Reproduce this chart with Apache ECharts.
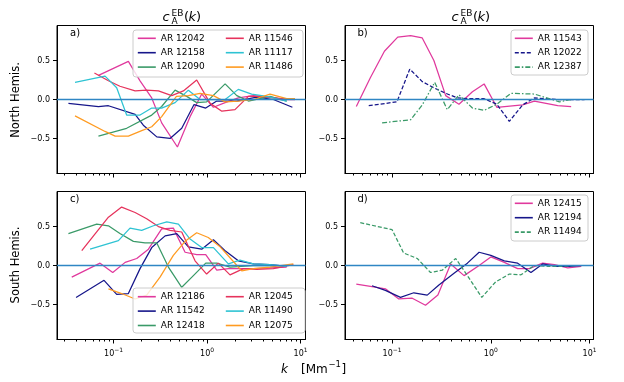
<!DOCTYPE html>
<html>
<head>
<meta charset="utf-8">
<script src="https://cdn.jsdelivr.net/npm/echarts@6/dist/echarts.min.js"></script>
<style>
  * { margin: 0; padding: 0; }
  #chart { width: 624px; height: 382px; background: #fff; }
</style>
</head>
<body>
<div id="chart"></div>
<script>
// [k (Mm^-1), c_A^EB]
// panel a) north
var ar12042 = [[0.069,0.31],[0.144,0.49],[0.192,0.24],[0.256,0.02],[0.327,-0.30],[0.482,-0.61],[0.658,-0.22],[0.877,0.07],[1.17,-0.10],[1.56,-0.04],[2.16,0.02],[3.13,0.05],[4.72,0.03],[7.11,0.0],[8.73,0.0]];
var ar12158 = [[0.0329,-0.05],[0.0689,-0.09],[0.0881,-0.08],[0.170,-0.19],[0.208,-0.33],[0.290,-0.48],[0.402,-0.50],[0.536,-0.37],[0.726,-0.065],[0.968,-0.11],[1.27,-0.02],[2.08,-0.02],[3.40,0.03],[5.12,0.0],[8.18,-0.10]];
var ar12090 = [[0.0689,-0.47],[0.138,-0.37],[0.256,-0.20],[0.327,-0.09],[0.455,0.12],[0.606,0.04],[0.775,-0.04],[0.99,-0.03],[1.56,0.20],[2.08,0.05],[2.77,-0.02],[4.72,0.04],[7.11,-0.02]];
var ar11546 = [[0.0624,0.34],[0.0881,0.24],[0.117,0.17],[0.170,0.11],[0.226,0.12],[0.302,0.11],[0.419,0.05],[0.558,0.11],[0.775,0.25],[1.08,-0.05],[1.44,-0.15],[1.99,-0.13],[2.77,0.04],[3.84,0.04],[5.12,0.02],[8.18,0.0]];
var ar11117 = [[0.0387,0.22],[0.0811,0.30],[0.108,0.15],[0.138,-0.20],[0.192,-0.20],[0.256,-0.11],[0.327,-0.11],[0.455,-0.04],[0.631,0.12],[0.842,0.0],[1.17,0.0],[1.56,0.0],[2.16,0.13],[3.0,0.07],[4.35,0.04],[7.11,-0.02]];
var ar11486 = [[0.0387,-0.21],[0.0811,-0.41],[0.104,-0.47],[0.144,-0.47],[0.2,-0.40],[0.256,-0.35],[0.327,-0.22],[0.47,0.04],[0.631,0.05],[0.842,0.08],[1.17,0.05],[1.56,-0.03],[2.16,-0.02],[3.13,0.0],[4.72,0.07],[7.11,0.01],[8.73,0.01]];
// panel b) north
var ar11543 = [[0.0434,-0.09],[0.0602,0.28],[0.0836,0.62],[0.114,0.80],[0.154,0.82],[0.202,0.79],[0.265,0.50],[0.349,0.05],[0.476,-0.06],[0.651,0.10],[0.855,0.20],[1.15,-0.10],[2.10,-0.07],[2.76,-0.02],[4.76,-0.08],[6.51,-0.09]];
var ar12022 = [[0.058,-0.08],[0.112,-0.03],[0.151,0.39],[0.202,0.23],[0.265,0.15],[0.349,0.08],[0.458,0.02],[0.626,0.01],[0.855,0.01],[1.15,-0.06],[1.54,-0.28],[2.10,-0.07],[2.76,0.02],[3.62,0.01],[4.76,0.0],[8.89,0.0]];
var ar12387 = [[0.0792,-0.30],[0.154,-0.26],[0.202,-0.07],[0.27,0.22],[0.362,-0.13],[0.476,0.06],[0.651,-0.11],[0.855,-0.14],[1.15,-0.06],[1.60,0.08],[2.76,0.07],[4.95,-0.03],[6.51,0.0]];
// panel c) south
var ar12186 = [[0.0357,-0.15],[0.0717,0.03],[0.098,-0.09],[0.133,0.04],[0.177,0.09],[0.236,0.21],[0.327,0.47],[0.436,0.48],[0.582,0.17],[0.775,0.14],[0.968,0.14],[1.27,-0.06],[1.69,-0.04],[3.13,-0.04],[7.11,-0.02]];
var ar11542 = [[0.0397,-0.41],[0.0791,-0.19],[0.108,-0.37],[0.144,-0.36],[0.192,-0.04],[0.256,0.23],[0.356,0.38],[0.474,0.41],[0.631,0.24],[0.877,0.21],[1.17,0.33],[1.56,0.19],[2.16,0.06],[3.13,0.02],[4.72,0.01],[7.11,-0.01]];
var ar12418 = [[0.0329,0.41],[0.066,0.53],[0.0881,0.51],[0.117,0.41],[0.163,0.31],[0.217,0.29],[0.29,0.29],[0.386,-0.02],[0.536,-0.28],[0.714,-0.13],[0.968,0.03],[1.27,0.03],[1.76,-0.02],[3.40,0.0],[7.11,0.0]];
var ar12045 = [[0.0457,0.19],[0.0881,0.62],[0.122,0.75],[0.170,0.68],[0.226,0.60],[0.302,0.50],[0.402,0.45],[0.536,0.43],[0.744,0.06],[0.99,-0.11],[1.32,0.03],[1.76,-0.12],[2.45,-0.04],[3.40,-0.05],[5.12,-0.04],[8.38,0.01]];
var ar11490 = [[0.0561,0.21],[0.1127,0.32],[0.150,0.48],[0.2,0.45],[0.267,0.51],[0.371,0.56],[0.494,0.53],[0.658,0.34],[0.877,0.23],[1.17,0.23],[1.69,0.02],[2.25,0.07],[3.13,0.02],[4.72,0.01],[7.11,-0.01]];
var ar12075 = [[0.0881,-0.30],[0.122,-0.36],[0.170,-0.43],[0.226,-0.38],[0.314,-0.15],[0.436,0.13],[0.582,0.31],[0.775,0.42],[1.03,0.36],[1.38,0.24],[1.76,0.10],[2.35,-0.07],[3.13,-0.04],[4.72,-0.02],[8.38,0.02]];
// panel d) south
var ar12415 = [[0.0434,-0.24],[0.0626,-0.27],[0.0855,-0.30],[0.117,-0.43],[0.160,-0.42],[0.218,-0.51],[0.291,-0.38],[0.392,0.02],[0.536,-0.13],[0.761,0.0],[1.0,0.11],[1.37,0.04],[1.87,-0.04],[2.45,-0.04],[3.35,0.03],[4.41,0.01],[6.02,-0.03],[8.23,-0.01]];
var ar12194 = [[0.0626,-0.26],[0.0855,-0.32],[0.1216,-0.41],[0.166,-0.35],[0.227,-0.38],[0.298,-0.25],[0.424,-0.10],[0.579,0.03],[0.761,0.17],[1.0,0.13],[1.37,0.06],[1.87,0.03],[2.55,-0.09],[3.35,0.02],[4.58,-0.01],[6.26,-0.01],[8.55,0.0]];
var ar11494 = [[0.0476,0.55],[0.1,0.46],[0.131,0.16],[0.18,0.09],[0.245,-0.09],[0.322,-0.06],[0.441,0.09],[0.579,-0.13],[0.81,-0.41],[1.12,-0.21],[1.54,-0.11],[2.02,-0.12],[2.76,0.0],[3.77,-0.01],[5.15,-0.01],[7.04,0.0]];

var majorK = [0.1, 1, 10];
var minorK = [0.02,0.03,0.04,0.05,0.06,0.07,0.08,0.09,0.2,0.3,0.4,0.5,0.6,0.7,0.8,0.9,2,3,4,5,6,7,8,9];
var yTicks = [-0.5, 0, 0.5];

var PINK = '#e0399d', NAVY = '#16168a', GREEN = '#3a9a68', RED = '#e6335c', CYAN = '#2ec3d3', ORANGE = '#ff9b21';
var ZERO = '#2f86c4';
var FONT = 'DejaVu Sans';

var panels = [
  { left: 57, top: 25.5, xmin: -1.605, xmax: 1.053, labels: false, series: [
    { name: 'AR 12042', data: ar12042, color: PINK },
    { name: 'AR 12158', data: ar12158, color: NAVY },
    { name: 'AR 12090', data: ar12090, color: GREEN },
    { name: 'AR 11546', data: ar11546, color: RED },
    { name: 'AR 11117', data: ar11117, color: CYAN },
    { name: 'AR 11486', data: ar11486, color: ORANGE } ] },
  { left: 345, top: 25.5, xmin: -1.477, xmax: 1.04, labels: false, series: [
    { name: 'AR 11543', data: ar11543, color: PINK },
    { name: 'AR 12022', data: ar12022, color: NAVY, dash: [4, 2] },
    { name: 'AR 12387', data: ar12387, color: GREEN, dash: [5, 2, 1.5, 2] } ] },
  { left: 57, top: 191.5, xmin: -1.605, xmax: 1.053, labels: true, series: [
    { name: 'AR 12186', data: ar12186, color: PINK },
    { name: 'AR 11542', data: ar11542, color: NAVY },
    { name: 'AR 12418', data: ar12418, color: GREEN },
    { name: 'AR 12045', data: ar12045, color: RED },
    { name: 'AR 11490', data: ar11490, color: CYAN },
    { name: 'AR 12075', data: ar12075, color: ORANGE } ] },
  { left: 345, top: 191.5, xmin: -1.477, xmax: 1.04, labels: true, series: [
    { name: 'AR 12415', data: ar12415, color: PINK },
    { name: 'AR 12194', data: ar12194, color: NAVY },
    { name: 'AR 11494', data: ar11494, color: GREEN, dash: [4, 2] } ] }
];

function lg(v) { return Math.log10(v); }
function minus(n) { return n < 0 ? '\u2212' + (-n) : '' + n; }

var grids = [], xAxes = [], yAxes = [], series = [];
panels.forEach(function (p, i) {
  grids.push({ left: p.left, top: p.top, width: 248.5, height: 148, show: true,
    borderColor: '#000', borderWidth: 1, backgroundColor: 'transparent' });
  var minors = minorK.map(lg).filter(function (v) { return v > p.xmin && v < p.xmax; });
  xAxes.push({
    type: 'value', gridIndex: i, min: p.xmin, max: p.xmax, position: 'bottom',
    splitLine: { show: false },
    axisLine: { show: true, onZero: false, lineStyle: { color: '#000', width: 1 } },
    axisTick: { show: true, customValues: majorK.map(lg), length: 4, lineStyle: { color: '#000' } },
    axisLabel: {
      show: p.labels, customValues: majorK.map(lg), margin: 8, color: '#000',
      fontFamily: FONT, fontSize: 8,
      formatter: function (v) { return '10{s|' + minus(Math.round(v)) + '}'; },
      rich: { s: { fontSize: 6, fontFamily: FONT, color: '#000', padding: [0, 0, 6, 0] } }
    }
  });
  xAxes.push({
    type: 'value', gridIndex: i, min: p.xmin, max: p.xmax, position: 'bottom',
    splitLine: { show: false }, axisLine: { show: false, onZero: false },
    axisTick: { show: true, customValues: minors, length: 2, lineStyle: { color: '#000' } },
    axisLabel: { show: false }
  });
  yAxes.push({
    type: 'value', gridIndex: i, min: -0.95, max: 0.95, position: 'left',
    splitLine: { show: false },
    axisLine: { show: true, onZero: false, lineStyle: { color: '#000', width: 1 } },
    axisTick: { show: true, customValues: yTicks, length: 4, lineStyle: { color: '#000' } },
    axisLabel: {
      customValues: yTicks, margin: 7, color: '#000', fontFamily: FONT, fontSize: 8,
      formatter: function (v) { return v === 0 ? '0.0' : (v < 0 ? '\u2212' : '') + Math.abs(v).toFixed(1); }
    }
  });
  // horizontal reference line at c = 0 across the panel
  series.push({
    type: 'line', name: 'zero' + i, xAxisIndex: 2 * i, yAxisIndex: i,
    data: [[p.xmin, 0], [p.xmax, 0]], symbol: 'none', silent: true, z: 4,
    lineStyle: { color: ZERO, width: 1.3 }, itemStyle: { color: ZERO }
  });
  p.series.forEach(function (s) {
    series.push({
      type: 'line', name: s.name, xAxisIndex: 2 * i, yAxisIndex: i,
      data: s.data.map(function (d) { return [lg(d[0]), d[1]]; }),
      symbol: 'none', z: 3,
      lineStyle: { color: s.color, width: 1.25, type: s.dash || 'solid' },
      itemStyle: { color: s.color }
    });
  });
});

var legStyle = { orient: 'vertical', itemGap: 4.4, itemWidth: 18, itemHeight: 8, padding: 0, z: 8,
  lineStyle: { width: 1.6 },
  itemStyle: { opacity: 0 },
  textStyle: { fontSize: 9, lineHeight: 10, fontFamily: FONT, color: '#000' } };
function leg(names, left, top) {
  return Object.assign({ data: names, left: left, top: top }, legStyle);
}
var legends = [
  leg(['AR 12042', 'AR 12158', 'AR 12090'], 137, 33.3),
  leg(['AR 11546', 'AR 11117', 'AR 11486'], 225, 33.3),
  leg(['AR 11543', 'AR 12022', 'AR 12387'], 514, 33.3),
  leg(['AR 12186', 'AR 11542', 'AR 12418'], 137, 291.7),
  leg(['AR 12045', 'AR 11490', 'AR 12075'], 225, 291.7),
  leg(['AR 12415', 'AR 12194', 'AR 11494'], 514, 198.3)
];

function frame(x, y, w, h) {
  return { type: 'rect', z: 5, shape: { x: x, y: y, width: w, height: h, r: 3 },
    style: { fill: 'rgba(255,255,255,0.8)', stroke: '#cccccc', lineWidth: 1 } };
}
function txt(t, x, y, size, opt) {
  return { type: 'text', z: 10, x: x, y: y, rotation: (opt && opt.rot) || 0,
    style: { text: t, fontSize: size, fontFamily: FONT, fill: '#000',
      fontStyle: (opt && opt.italic) ? 'italic' : 'normal',
      align: (opt && opt.align) || 'left', verticalAlign: 'middle' } };
}
function title(dx) {
  return [
    txt('c', 162.5 + dx, 18, 13, { italic: true }),
    txt('EB', 171.5 + dx, 14, 9),
    txt('A', 171.5 + dx, 21.5, 9),
    txt('(', 184 + dx, 18, 13),
    txt('k', 188.5 + dx, 18, 13, { italic: true }),
    txt(')', 196 + dx, 18, 13)
  ];
}

var graphics = [
  frame(133, 30, 170, 47), frame(511, 30, 77, 45),
  frame(133, 288, 172, 45), frame(511, 195, 77, 46),
  txt('a)', 70, 33.5, 10), txt('b)', 357.5, 33.5, 10),
  txt('c)', 70, 199, 10), txt('d)', 357.5, 199, 10),
  txt('North Hemis.', 16, 100, 11.5, { rot: Math.PI / 2, align: 'center' }),
  txt('South Hemis.', 16, 265, 11.5, { rot: Math.PI / 2, align: 'center' }),
  txt('k', 281, 370, 12, { italic: true }),
  txt('[Mm', 301, 370, 12),
  txt('\u22121', 328.5, 365, 8.5),
  txt(']', 341.5, 370, 12)
].concat(title(0), title(289));

var chart = echarts.init(document.getElementById('chart'), null, { renderer: 'canvas' });
chart.setOption({
  animation: false,
  backgroundColor: '#fff',
  grid: grids,
  xAxis: xAxes,
  yAxis: yAxes,
  legend: legends,
  series: series,
  graphic: { elements: graphics }
});
</script>
</body>
</html>
